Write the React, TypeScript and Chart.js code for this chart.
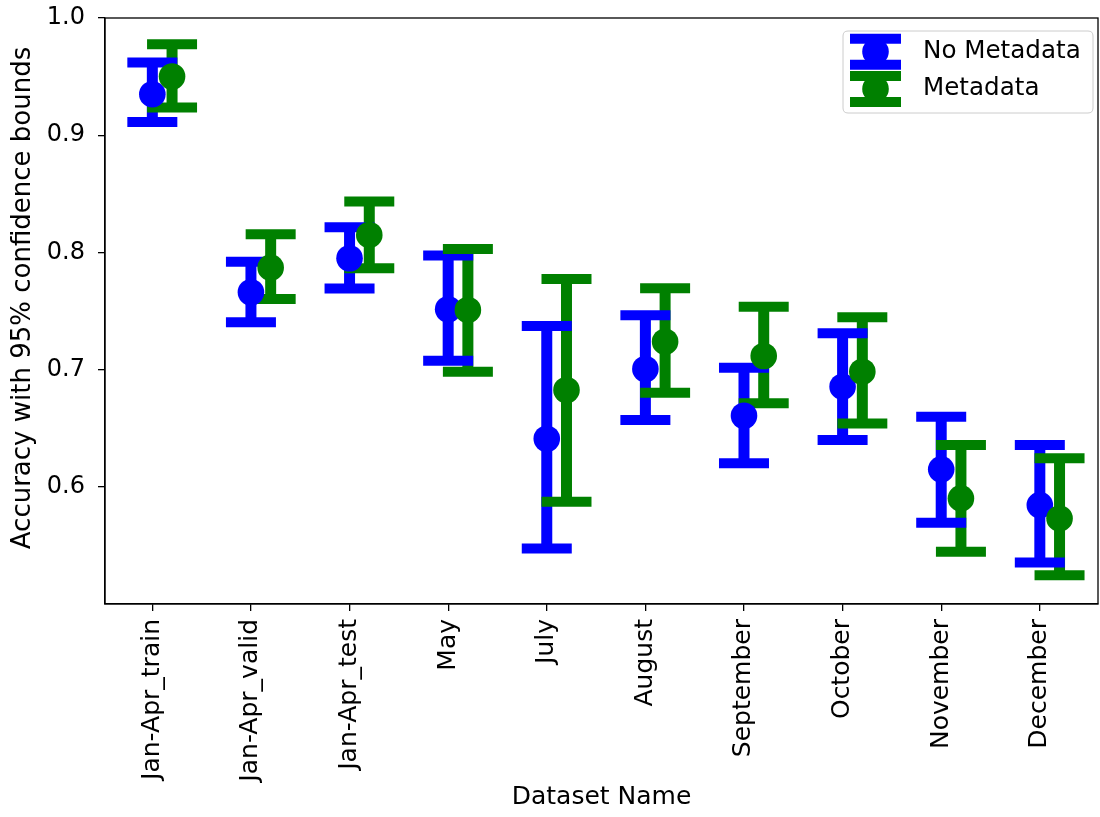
import React, { useEffect, useRef } from 'react';
import { Chart, registerables } from 'chart.js';

Chart.register(...registerables);

// ---------- data ----------
const categories = [
  'Jan-Apr_train', 'Jan-Apr_valid', 'Jan-Apr_test', 'May', 'July',
  'August', 'September', 'October', 'November', 'December',
];
const noMetaMean = [0.935, 0.766, 0.795, 0.7515, 0.641, 0.7005, 0.6606, 0.6854, 0.6149, 0.5844];
const noMetaLow = [0.9112, 0.7405, 0.7691, 0.7076, 0.5474, 0.657, 0.62, 0.6399, 0.5693, 0.5354];
const noMetaHigh = [0.9621, 0.7921, 0.8215, 0.7973, 0.7372, 0.7464, 0.7016, 0.731, 0.6598, 0.6356];
const metaMean = [0.9501, 0.787, 0.8149, 0.7509, 0.6826, 0.7238, 0.7116, 0.6982, 0.5901, 0.573];
const metaLow = [0.9237, 0.7603, 0.7865, 0.6982, 0.5872, 0.6803, 0.6712, 0.6541, 0.5445, 0.5246];
const metaHigh = [0.9775, 0.8155, 0.8434, 0.803, 0.7774, 0.7694, 0.7537, 0.7447, 0.6356, 0.6243];
const yTickValues = [0.6, 0.7, 0.8, 0.9, 1.0];
const seriesLabels = ['No Metadata', 'Metadata'];
const yTitle = 'Accuracy with 95% confidence bounds';
const xTitle = 'Dataset Name';
const metaOffset = 0.2;

// ---------- style ----------
const BLUE = '#0000ff';
const GREEN = '#008000';
const FONT = "'DejaVu Sans', sans-serif";
const FS_Y = 24;
const FS_YTITLE = 26;
const FS_X = 25;
const FS_LEG = 24.6;
const BAR_W = 11;
const CAP_W = 50;
const CAP_T = 10;
const MARKER_R = 13.3;

function buildPoints(mean: number[], low: number[], high: number[], off: number) {
  return mean.map((m, i) => ({ x: i + off, y: m, yMin: low[i], yMax: high[i] }));
}

const errorBarPlugin = {
  id: 'errorBars',
  beforeDatasetsDraw(chart: any) {
    const { ctx, scales } = chart;
    const xs = scales.x;
    const ys = scales.y;
    const sets = chart.data.datasets;
    ctx.save();
    ctx.lineCap = 'butt';
    sets.forEach((ds: any) => {
      ctx.strokeStyle = ds.backgroundColor;
      ctx.lineWidth = BAR_W;
      ds.data.forEach((p: any) => {
        const x = xs.getPixelForValue(p.x);
        ctx.beginPath();
        ctx.moveTo(x, ys.getPixelForValue(p.yMin));
        ctx.lineTo(x, ys.getPixelForValue(p.yMax));
        ctx.stroke();
      });
    });
    sets.forEach((ds: any) => {
      ctx.strokeStyle = ds.backgroundColor;
      ctx.lineWidth = CAP_T;
      ds.data.forEach((p: any) => {
        const x = xs.getPixelForValue(p.x);
        [p.yMin, p.yMax].forEach((v: number) => {
          const y = ys.getPixelForValue(v);
          ctx.beginPath();
          ctx.moveTo(x - CAP_W / 2, y);
          ctx.lineTo(x + CAP_W / 2, y);
          ctx.stroke();
        });
      });
    });
    ctx.restore();
  },
  afterDraw(chart: any) {
    const { ctx, chartArea } = chart;
    ctx.save();
    ctx.strokeStyle = '#000';
    ctx.lineWidth = 1.3;
    ctx.strokeRect(chartArea.left, chartArea.top, chartArea.right - chartArea.left, chartArea.bottom - chartArea.top);

    // y axis title
    ctx.save();
    ctx.translate(23, 298);
    ctx.rotate(-Math.PI / 2);
    ctx.fillStyle = '#000';
    ctx.font = `${FS_YTITLE}px ${FONT}`;
    ctx.textAlign = 'center';
    ctx.textBaseline = 'middle';
    ctx.fillText(yTitle, 0, 0);
    ctx.restore();

    // legend
    const bx = 843, by = 31, bw = 250, bh = 82, r = 5;
    ctx.beginPath();
    ctx.moveTo(bx + r, by);
    ctx.lineTo(bx + bw - r, by);
    ctx.quadraticCurveTo(bx + bw, by, bx + bw, by + r);
    ctx.lineTo(bx + bw, by + bh - r);
    ctx.quadraticCurveTo(bx + bw, by + bh, bx + bw - r, by + bh);
    ctx.lineTo(bx + r, by + bh);
    ctx.quadraticCurveTo(bx, by + bh, bx, by + bh - r);
    ctx.lineTo(bx, by + r);
    ctx.quadraticCurveTo(bx, by, bx + r, by);
    ctx.closePath();
    ctx.fillStyle = 'rgba(255,255,255,0.8)';
    ctx.fill();
    ctx.strokeStyle = '#cccccc';
    ctx.lineWidth = 1;
    ctx.stroke();

    const rows = [51.7, 89];
    chart.data.datasets.forEach((ds: any, i: number) => {
      const cy = rows[i];
      const cx = 875.5;
      ctx.strokeStyle = ds.backgroundColor;
      ctx.fillStyle = ds.backgroundColor;
      ctx.lineWidth = BAR_W;
      ctx.beginPath();
      ctx.moveTo(cx, cy - 13);
      ctx.lineTo(cx, cy + 13);
      ctx.stroke();
      ctx.lineWidth = CAP_T;
      [cy - 13, cy + 13].forEach((y) => {
        ctx.beginPath();
        ctx.moveTo(cx - 25.5, y);
        ctx.lineTo(cx + 25.5, y);
        ctx.stroke();
      });
      ctx.beginPath();
      ctx.arc(cx, cy, MARKER_R, 0, Math.PI * 2);
      ctx.fill();
      ctx.fillStyle = '#000';
      ctx.font = `${FS_LEG}px ${FONT}`;
      ctx.textAlign = 'left';
      ctx.textBaseline = 'middle';
      ctx.fillText(ds.label, 923, cy);
    });
    ctx.restore();
  },
};

export default function App() {
  const ref = useRef<HTMLCanvasElement | null>(null);

  useEffect(() => {
    document.body.style.margin = '0';
    const canvas = ref.current;
    if (!canvas) return;
    const chart = new Chart(canvas, {
      type: 'scatter',
      data: {
        datasets: [
          {
            label: seriesLabels[0],
            data: buildPoints(noMetaMean, noMetaLow, noMetaHigh, 0),
            backgroundColor: BLUE,
            borderColor: BLUE,
            borderWidth: 0,
            pointRadius: MARKER_R,
            pointHoverRadius: MARKER_R,
            order: 1,
          },
          {
            label: seriesLabels[1],
            data: buildPoints(metaMean, metaLow, metaHigh, metaOffset),
            backgroundColor: GREEN,
            borderColor: GREEN,
            borderWidth: 0,
            pointRadius: MARKER_R,
            pointHoverRadius: MARKER_R,
            order: 0,
          },
        ],
      },
      options: {
        animation: false,
        responsive: false,
        devicePixelRatio: 1,
        layout: { autoPadding: false, padding: { top: 18, right: 2, left: 0, bottom: 0 } },
        plugins: {
          legend: { display: false },
          tooltip: { enabled: false },
        },
        scales: {
          x: {
            type: 'linear',
            min: -0.48,
            max: 9.59,
            afterFit: (s: any) => { s.height = 213; s.paddingLeft = 0; s.paddingRight = 0; },
            afterBuildTicks: (s: any) => { s.ticks = categories.map((_, i) => ({ value: i })); },
            ticks: {
              autoSkip: false,
              minRotation: 90,
              maxRotation: 90,
              padding: 8,
              color: '#000',
              font: { family: FONT, size: FS_X },
              callback: (v: any) => categories[Math.round(Number(v))] ?? '',
            },
            grid: { drawOnChartArea: false, drawTicks: true, tickLength: 7, color: '#000', lineWidth: 1.3 },
            border: { display: true, color: '#000', width: 1.3 },
            title: {
              display: true,
              text: xTitle,
              color: '#000',
              font: { family: FONT, size: FS_X },
              padding: { top: 0, bottom: 5 },
            },
          },
          y: {
            type: 'linear',
            min: 0.5,
            max: 1.0,
            afterFit: (s: any) => { s.width = 105; s.paddingTop = 0; s.paddingBottom = 0; },
            afterBuildTicks: (s: any) => { s.ticks = yTickValues.map((v) => ({ value: v })); },
            ticks: {
              padding: 13,
              color: '#000',
              font: { family: FONT, size: FS_Y },
              callback: (v: any) => Number(v).toFixed(1),
            },
            grid: { drawOnChartArea: false, drawTicks: true, tickLength: 7, color: '#000', lineWidth: 1.3 },
            border: { display: true, color: '#000', width: 1.3 },
            title: { display: false },
          },
        },
      },
      plugins: [errorBarPlugin],
    } as any);
    return () => chart.destroy();
  }, []);

  return (
    <div style={{ width: 1100, height: 817 }}>
      <canvas ref={ref} width={1100} height={817} style={{ display: 'block' }} />
    </div>
  );
}
